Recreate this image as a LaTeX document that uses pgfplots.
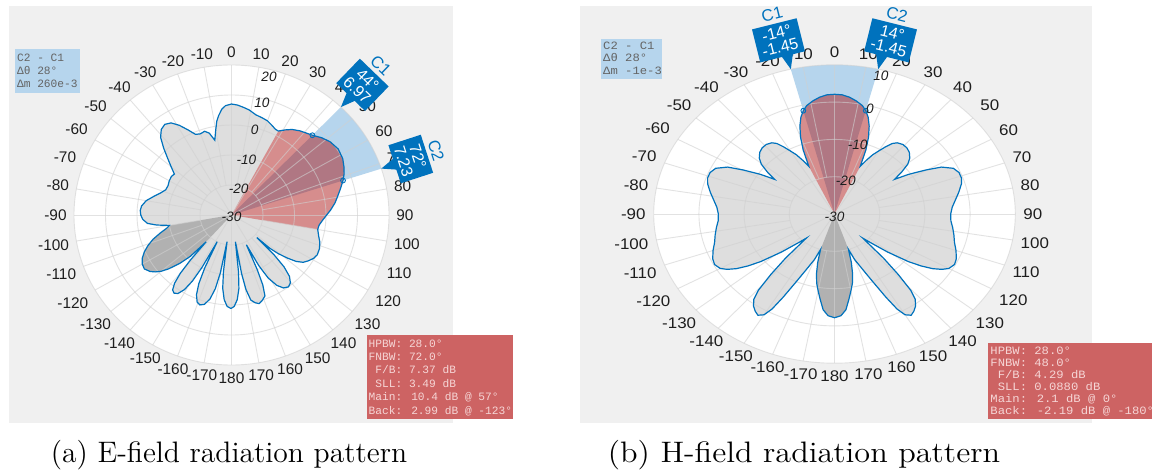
\documentclass[border=0pt]{standalone}
\usepackage{pgfplots}
\pgfplotsset{compat=1.18}
\usepackage{pgfplotstable}
\usepackage{fontspec}
\newfontfamily\lsans{Liberation Sans}
\newfontfamily\lmono{Liberation Mono}

\definecolor{bggray}{RGB}{240,240,240}
\definecolor{mblue}{RGB}{0,114,189}
\definecolor{spanblue}{RGB}{182,213,237}
\definecolor{gridc}{RGB}{208,208,208}
\definecolor{secred}{RGB}{204,20,20}
\definecolor{infored}{RGB}{205,99,99}
\definecolor{infotxt}{RGB}{246,214,214}
\definecolor{lbltxt}{RGB}{30,30,30}
\definecolor{boxtxt}{RGB}{100,100,100}

% E-plane gain (dB) against angle (deg, clockwise from boresight)
\pgfplotstableread{
t g
-180 1.05
-179.5 1.1
-177.4 0.5
-175.3 -1.7
-173.5 -5.4
-172.3 -10.9
-171 -21
-169.6 -10.4
-168.2 -4.9
-166.3 -1.2
-163.9 1.0
-161.5 1.6
-159.4 1.0
-157.3 -1.2
-155.6 -4.9
-154.3 -10.4
-153 -20
-151.8 -10.2
-150.6 -4.7
-149 -1.0
-147 1.2
-145 1.8
-143.2 1.2
-141.5 -1.0
-140.1 -4.7
-139 -10.2
-138 -18
-136.5 -11
-134.5 -7
-132 -3.2
-130 -0.8
-128 0.8
-126 2.0
-123 2.99
-120 2.7
-117 1.8
-114 0.3
-111 -1.6
-108 -3.8
-105 -6.5
-102 -9.0
-100 -10
-98 -6
-96 -3.2
-93 -1.8
-90 -1.2
-87 -1.0
-84 -1.3
-80 -2.5
-76 -4.5
-72 -6.3
-68 -7.5
-64 -7.6
-60 -7.2
-56 -7.0
-53 -7.3
-50 -5
-47 -2.3
-44 1.0
-41 4.3
-38 6.2
-35 6.9
-32 6.2
-29 4.2
-26 1.6
-23 -0.8
-20 -1.2
-17 -0.8
-14.5 -1.8
-12 -4.5
-10 -1.2
-8.5 1.6
-7 3.4
-5 5.4
-3 6.5
0 7.0
3 6.7
6 6.1
9 5.5
13 4.3
17 3.8
20 3.4
23 2.6
26 1.8
28 1.7
31 3.1
34 4.4
37.8 5.5
41 6.2
44 6.97
48 8.5
52 9.7
57 10.4
62 10.0
66 9.1
69 8.3
72 7.23
76 5.6
80 4.1
83 3.1
87 1.5
90 0.2
94 -1.2
97 -2.0
100 -2.2
104 -1.5
108 -0.5
112 0.1
116 0.3
119 -0.2
122 -1.2
124.7 -2.3
127 -4.3
129 -7.2
131 -10.5
132.3 -13.5
133 -19
134.5 -11
136 -6
138 -2.5
140.5 -0.6
143 0
145.8 -0.6
148.5 -2.5
151 -6
152.8 -11
154.5 -19
155.8 -10.2
156.9 -4.7
158.5 -1.0
161.3 0.2
163.5 0.8
165.6 0.2
167.8 -1.0
169.5 -4.7
170.7 -10.2
172 -21
173.3 -10.9
174.5 -5.4
176.3 -1.7
178.4 0.5
180 1.05
}\patE

% H-plane gain (dB) against angle (deg, clockwise from boresight)
\pgfplotstableread{
t g
-180 -2.19
-177 -2.7
-174.4 -4.2
-172 -7
-170.2 -8.9
-168 -11
-166 -13.5
-164 -16.5
-162 -20
-160 -17
-157 -13.5
-155 -10
-153 -5
-151.5 -1.0
-150 1.2
-148 2.0
-146 1.4
-144 0.5
-142 -1.0
-140.5 -3.5
-139 -8.5
-137.5 -14
-136 -21
-134 -19
-131 -14.5
-128 -9.3
-126 -6.3
-124 -3.8
-122 -2.0
-120 -0.8
-117 -0.2
-114 -0.5
-110 -1.4
-106 -2.4
-102 -3.0
-98 -3.6
-94 -4.2
-90 -4.3
-86 -3.9
-82 -3.0
-78 -1.9
-74 -0.8
-71 -0.3
-68 -0.3
-65 -1.0
-62 -3.2
-59.7 -6.6
-57 -10.5
-55 -13.8
-53 -11.5
-50.5 -9.0
-48 -7.6
-45 -6.6
-42 -6.1
-39 -6.0
-36 -6.4
-34 -7.2
-32 -8.8
-30 -10.5
-28 -12
-26 -14
-24 -16
-22 -11.5
-20 -8.0
-18 -5.2
-16 -3.0
-14 -1.45
-12 -0.3
-9 0.7
-6 1.5
-3 2.0
0 2.1
3 2.0
6 1.5
9 0.7
12 -0.3
14 -1.45
16 -3.0
18 -5.2
20 -8.0
22 -11.5
24 -16
26 -14
28 -12
30 -10.5
32 -8.8
34 -7.2
36 -6.4
39 -6.0
42 -6.1
45 -6.6
48 -7.6
50.5 -9.0
53 -11.5
55 -13.8
57 -10.5
59.7 -6.6
62 -3.2
65 -1.0
68 -0.3
71 -0.3
74 -0.8
78 -1.9
82 -3.0
86 -3.9
90 -4.3
94 -4.2
98 -3.6
102 -3.0
106 -2.4
110 -1.4
114 -0.5
117 -0.2
120 -0.8
122 -2.0
124 -3.8
126 -6.3
128 -9.3
131 -14.5
134 -19
136 -21
137.5 -14
139 -8.5
140.5 -3.5
142 -1.0
144 0.5
146 1.4
148 2.0
150 1.2
151.5 -1.0
153 -5
155 -10
157 -13.5
160 -17
162 -20
164 -16.5
166 -13.5
168 -11
170.2 -8.9
172 -7
174.4 -4.2
177 -2.7
180 -2.19
}\patH

\pgfplotsset{
  table/polar dB/.style={
    x expr={(\thisrow{g}+30)*sin(\thisrow{t})},
    y expr={(\thisrow{g}+30)*cos(\thisrow{t})}},
  polbase/.style={hide axis, clip=false, anchor=south west},
  panE/.style={polbase, at={(4.5pt,24pt)}, x=1.575pt, y=1.5pt,
    xmin=-70.63, xmax=70.32, ymin=-69.33, ymax=69.67},
  panH/.style={polbase, at={(290pt,24pt)}, x=2.26pt, y=1.865pt,
    xmin=-56.31, xmax=56.97, ymin=-56.03, ymax=55.76},
}

\tikzset{
  anglbl/.style={font=\lsans\fontsize{7.7}{8}\selectfont, text=lbltxt, inner sep=3.5pt},
  radlbl/.style={font=\lsans\itshape\fontsize{6.8}{7}\selectfont, text=lbltxt, inner sep=0pt},
  info/.style={inner sep=0pt, anchor=base west},
  gridline/.style={gridc, line width=0.45pt, draw opacity=0.6},
}

% rings every 10 dB and spokes every 10 degrees out to radius #1
\newcommand\polargrid[1]{%
  \foreach \rr in {10,20,...,#1} \draw[gridline] (0,0) circle[radius=\rr];
  \foreach \ang in {0,10,...,350} \draw[gridline] ({10*sin(\ang)},{10*cos(\ang)}) -- ({#1*sin(\ang)},{#1*cos(\ang)});
  \foreach \ang in {0,30,...,330} \draw[gridline] (0,0) -- ({10*sin(\ang)},{10*cos(\ang)});
}
% angle labels around radius #1
\newcommand\anglelabels[2]{%
  \foreach \ang in {-170,-160,...,180} {
    \pgfmathtruncatemacro\an{mod(630-\ang,360)}
    \node[anglbl, anchor=\an, #2] at ({#1*sin(\ang)},{#1*cos(\ang)}) {\ang};
  }}
% cursor callout: tip x, tip y, angle, box shift, half width, name, angle text, value text
\newcommand\cursorbox[8]{%
  \begin{scope}[shift={(#1,#2)}, rotate=-#3]
    \fill[mblue] (0,0) -- (-6,15) -- (6,15) -- cycle;
    \fill[mblue] ({#4-#5},14) rectangle ({#4+#5},48);
    \node[rotate=-#3, text=white, inner sep=0pt, font=\lsans\fontsize{8}{9}\selectfont] at (#4,38.5) {#7};
    \node[rotate=-#3, text=white, inner sep=0pt, font=\lsans\fontsize{8}{9}\selectfont] at (#4,23.5) {#8};
    \node[rotate=-#3, text=mblue, inner sep=0pt, font=\lsans\fontsize{8.3}{9}\selectfont] at (#4,57.5) {#6};
  \end{scope}}

\begin{document}
\begin{tikzpicture}[x=0.5pt, y=0.5pt]
\useasboundingbox (0,0) rectangle (1154,471);

% panel backgrounds
\fill[bggray] (9,48) rectangle (453,465);
\fill[bggray] (580,48) rectangle (1092,465);

% polar areas and cursor spans
\begin{scope}[shift={(231.5,256)}, x=1.575pt, y=1.5pt]
  \fill[white] (0,0) circle[radius=50];
  \fill[spanblue] (0,0) \foreach \ang in {44,46,...,72} { -- ({50*sin(\ang)},{50*cos(\ang)}) } -- cycle;
\end{scope}
\begin{scope}[shift={(834.5,257)}, x=2.26pt, y=1.865pt]
  \fill[white] (0,0) circle[radius=40];
  \fill[spanblue] (0,0) \foreach \ang in {-14,-12,...,14} { -- ({40*sin(\ang)},{40*cos(\ang)}) } -- cycle;
\end{scope}

% pattern fills, back lobe and main lobe sectors
\begin{axis}[panE]
  \addplot[draw=none, fill=black, fill opacity=0.13] table[polar dB] {\patE};
  \addplot[draw=none, fill=black, fill opacity=0.2, restrict expr to domain={\thisrow{t}}{-138:-100}] table[polar dB] {\patE} -- (axis cs:0,0) -- cycle;
  \addplot[draw=none, fill=secred, fill opacity=0.4, restrict expr to domain={\thisrow{t}}{28:100}] table[polar dB] {\patE} -- (axis cs:0,0) -- cycle;
\end{axis}
\begin{axis}[panH]
  \addplot[draw=none, fill=black, fill opacity=0.13] table[polar dB] {\patH};
  \addplot[draw=none, fill=black, fill opacity=0.2, restrict expr to domain={\thisrow{t}}{162:180}] table[polar dB] {\patH} -- (axis cs:0,0) -- cycle;
  \addplot[draw=none, fill=black, fill opacity=0.2, restrict expr to domain={\thisrow{t}}{-180:-162}] table[polar dB] {\patH} -- (axis cs:0,0) -- cycle;
  \addplot[draw=none, fill=secred, fill opacity=0.4, restrict expr to domain={\thisrow{t}}{-24:24}] table[polar dB] {\patH} -- (axis cs:0,0) -- cycle;
\end{axis}

% grids
\begin{scope}[shift={(231.5,256)}, x=1.575pt, y=1.5pt]
  \polargrid{50}
\end{scope}
\begin{scope}[shift={(834.5,257)}, x=2.26pt, y=1.865pt]
  \polargrid{40}
\end{scope}

% pattern outlines and cursor markers
\begin{axis}[panE]
  \addplot[mblue, line width=0.6pt] table[polar dB] {\patE};
  \addplot[only marks, mark=o, mark size=1.2pt, mblue, line width=0.45pt] table[polar dB] {
t g
44 6.97
72 7.23
};
\end{axis}
\begin{axis}[panH]
  \addplot[mblue, line width=0.6pt] table[polar dB] {\patH};
  \addplot[only marks, mark=o, mark size=1.2pt, mblue, line width=0.45pt] table[polar dB] {
t g
-14 -1.45
14 -1.45
};
\end{axis}

% labels
\begin{scope}[shift={(231.5,256)}, x=1.575pt, y=1.5pt]
  \anglelabels{50}{}
  \node[radlbl] at (0,-0.6) {-30};
  \foreach \v/\rr in {-20/9.1,-10/18.9,0/29.2,10/38.6,20/47.6}
    \node[radlbl] at ({\rr*sin(14.5)},{\rr*cos(14.5)}) {\v};
\end{scope}
\begin{scope}[shift={(834.5,257)}, x=2.26pt, y=1.865pt]
  \anglelabels{40}{xscale=1.1}
  \node[radlbl] at (0,-0.7) {-30};
  \foreach \v/\rr in {-20/9.3,-10/19.2,0/29.4,10/38.4}
    \node[radlbl] at ({\rr*sin(15.5)},{\rr*cos(15.5)}) {\v};
\end{scope}

% cursor callouts
\cursorbox{340.9}{363.9}{44}{0}{20}{C1}{44°}{6.97}
\cursorbox{381.3}{302.4}{72}{0}{20}{C2}{72°}{7.23}
\cursorbox{790.8}{401.8}{-14}{-5}{23}{C1}{-14°}{-1.45}
\cursorbox{878.2}{401.8}{14}{5}{23}{C2}{14°}{-1.45}

% cursor difference boxes
\fill[spanblue] (15,378.3) rectangle (80,421.7);
\foreach \txt [count=\i from 0] in {{C2 - C1},{Δθ 28°},{Δm 260e-3}}
  \node[info, text=boxtxt, font=\lmono\fontsize{5.6}{6}\selectfont] at (16.7,{409.6-\i*13.3}) {\txt};
\fill[spanblue] (601,392.3) rectangle (661.6,431.7);
\foreach \txt [count=\i from 0] in {{C2 - C1},{Δθ 28°},{Δm -1e-3}}
  \node[info, xscale=1.09, text=boxtxt, font=\lmono\fontsize{5.6}{6}\selectfont] at (602.8,{421.3-\i*12.3}) {\txt};

% antenna metrics boxes
\fill[infored] (366.7,51.7) rectangle (512.7,136);
\foreach \txt [count=\i from 0] in {{HPBW: 28.0°},{FNBW: 72.0°},{\hphantom{H}F/B: 7.37 dB},{\hphantom{H}SLL: 3.49 dB},{Main: 10.4 dB @ 57°},{Back: 2.99 dB @ -123°}}
  \node[info, text=infotxt, font=\lmono\fontsize{5.6}{6}\selectfont] at (368.3,{124-\i*13.45}) {\txt};
\fill[infored] (988.3,51.7) rectangle (1151.7,127.7);
\foreach \txt [count=\i from 0] in {{HPBW: 28.0°},{FNBW: 48.0°},{\hphantom{H}F/B: 4.29 dB},{\hphantom{H}SLL: 0.0880 dB},{Main: 2.1 dB @ 0°},{Back: -2.19 dB @ -180°}}
  \node[info, xscale=1.09, text=infotxt, font=\lmono\fontsize{5.6}{6}\selectfont] at (990,{116.6-\i*12.07}) {\txt};

% captions
\node[anchor=base, inner sep=0pt, font=\fontsize{14.8}{17}\selectfont] at (229,8.5) {(a) E-field radiation pattern};
\node[anchor=base, inner sep=0pt, xscale=1.09, font=\fontsize{14.8}{17}\selectfont] at (804,8.5) {(b) H-field radiation pattern};
\end{tikzpicture}
\end{document}
